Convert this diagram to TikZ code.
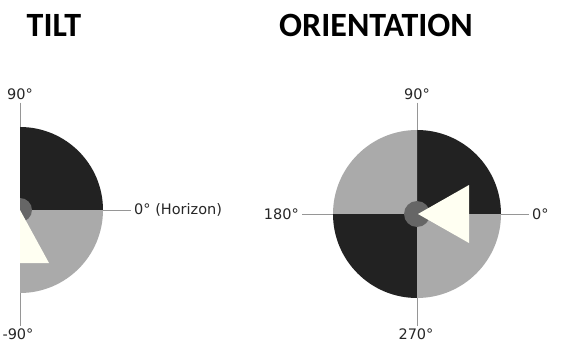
\documentclass[tikz,border=0pt]{standalone}
\usepackage{fontspec}
\usepackage{xcolor}
\setmainfont{DejaVu Sans}
\newfontfamily\titlefont{Carlito}
\usetikzlibrary{positioning, calc}
\definecolor{darkquad}{RGB}{34,34,34}
\definecolor{lightquad}{RGB}{170,170,170}
\definecolor{hubgray}{RGB}{102,102,102}
\definecolor{pointer}{RGB}{255,255,242}
\definecolor{axisgray}{RGB}{150,150,150}

\begin{document}
\begin{tikzpicture}[x=1pt, y=1pt,
    title/.style={font=\titlefont\bfseries\fontsize{34}{36}\selectfont},
    deg/.style={font=\fontsize{14.5}{16}\selectfont, text=black!85, inner sep=3pt},
    axis/.style={draw=axisgray, line width=0.6pt}]
    \useasboundingbox (0,0) rectangle (565,354);

    \node[title] (tilttitle) at (54,329) {TILT};
    \node[title] (orienttitle) at (376,329) {ORIENTATION};

    % tilt
    \coordinate (tc) at (20,144);
    \node[deg] (t90) at (20,260) {90°};
    \node[deg] (tm90) at (18,19.5) {-90°};
    \node[deg, anchor=west] (thor) at (131,144) {0° (Horizon)};
    \draw[axis] (t90) -- (tc |- tm90.north);
    \draw[axis] (tc) -- (thor);
    \fill[darkquad] (tc) -- ++(0:83) arc[start angle=0, end angle=90, radius=83] -- cycle;
    \fill[lightquad] (tc) -- ++(-90:83) arc[start angle=-90, end angle=0, radius=83] -- cycle;
    \fill[hubgray] (tc) -- ++(-90:12) arc[start angle=-90, end angle=90, radius=12] -- cycle;
    \fill[pointer] (tc) -- ++(29,-53) -- ++(-29,0) -- cycle;

    % orientation
    \coordinate (oc) at (417,140);
    \node[deg] (o90) at (417,260) {90°};
    \node[deg] (o270) at (416,19.5) {270°};
    \node[deg, anchor=east] (o180) at (302,140) {180°};
    \node[deg, anchor=west] (o0) at (529,140) {0°};
    \draw[axis] (o90) -- (oc |- o270.north);
    \draw[axis] (o180) -- (o0);
    \foreach \a/\c in {0/darkquad, 90/lightquad, 180/darkquad, 270/lightquad}
        \fill[\c] (oc) -- ++(\a:84) arc[start angle=\a, end angle=\a+90, radius=84] -- cycle;
    \fill[hubgray] (oc) circle[radius=13];
    \fill[pointer] ($(oc)+(1,0)$) -- ++(51,29) -- ++(0,-58) -- cycle;
\end{tikzpicture}
\end{document}
